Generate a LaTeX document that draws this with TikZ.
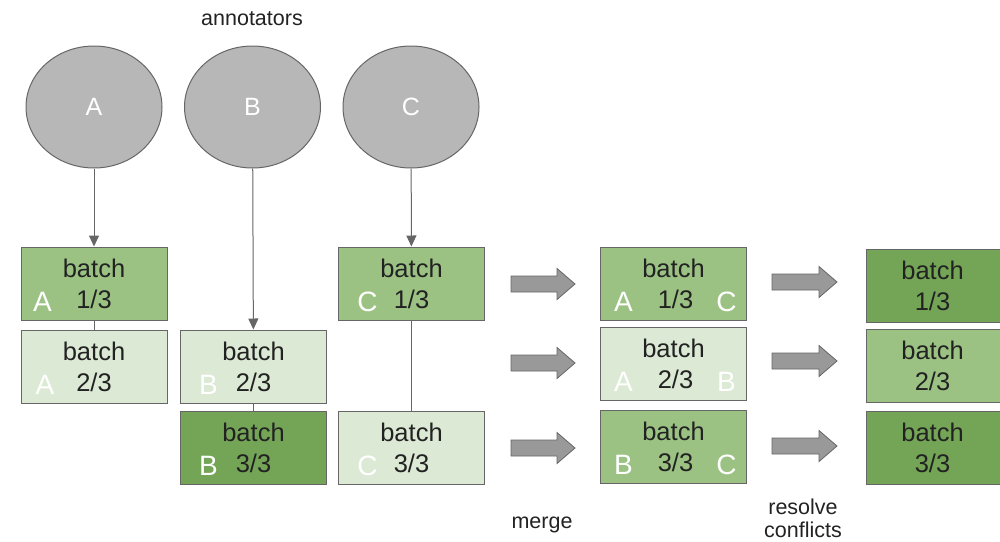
\documentclass[tikz,border=0pt]{standalone}
\usepackage{fontspec}
\setmainfont{Liberation Sans}
\usetikzlibrary{shapes.geometric,arrows.meta,calc}
\definecolor{gmid}{HTML}{9BC283}
\definecolor{glight}{HTML}{DCE9D4}
\definecolor{gdark}{HTML}{74A556}
\definecolor{bordergray}{HTML}{666666}
\definecolor{circgray}{HTML}{B7B7B7}
\definecolor{arrgray}{HTML}{999999}
\definecolor{txt}{HTML}{222222}
\tikzset{
  x=1pt,y=-1pt,
  annot/.style={ellipse,draw=bordergray,line width=1pt,fill=circgray,minimum width=136pt,minimum height=122pt,inner sep=0pt,text=white,font=\fontsize{25}{25}\selectfont},
  batchbox/.style={draw=bordergray,line width=1pt,minimum width=146pt,minimum height=73pt,inner sep=0pt},
  btxt/.style={text=txt,font=\fontsize{25.5}{25.5}\selectfont,inner sep=0pt,anchor=base},
  wtxt/.style={text=white,font=\fontsize{28}{28}\selectfont,inner sep=0pt,anchor=base},
  lbl/.style={text=txt,font=\fontsize{21.5}{21.5}\selectfont,inner sep=0pt,anchor=base},
  conn/.style={draw=bordergray,line width=1pt},
  arr/.style={conn,-{Triangle[length=11pt,width=10pt]}},
  blockarrow/.style={draw=bordergray,fill=arrgray,line width=0.8pt,line join=miter},
}
\newcommand{\blockarr}[4]{% x0, xh, x1, yc
  \path[blockarrow] (#1,#4-8) -- (#2,#4-8) -- (#2,#4-15.5) -- (#3,#4) -- (#2,#4+15.5) -- (#2,#4+8) -- (#1,#4+8) -- cycle;
}
\begin{document}
\begin{tikzpicture}
\useasboundingbox (0,0) rectangle (1000,541);
\node[lbl] (annlbl) at (252,25) {annotators};
\node[annot] (eA) at (94,107) {A};
\node[annot] (eB) at (252.5,107) {B};
\node[annot] (eC) at (411,107) {C};
% column A
\node[batchbox,fill=gmid] (a1) at (94,283.5) {};
\node[batchbox,fill=glight] (a2) at (94,366.5) {};
% column B
\node[batchbox,fill=glight] (b2) at (253.5,366.5) {};
\node[batchbox,fill=gdark] (b3) at (253.5,448) {};
% column C
\node[batchbox,fill=gmid] (c1) at (411.5,283.5) {};
\node[batchbox,fill=glight] (c3) at (411.5,448) {};
% merged
\node[batchbox,fill=gmid] (m1) at (673.5,283.5) {};
\node[batchbox,fill=glight] (m2) at (673.5,364) {};
\node[batchbox,fill=gmid] (m3) at (673.5,446.5) {};
% resolved
\node[batchbox,fill=gdark] (r1) at (939.5,285.5) {};
\node[batchbox,fill=gmid] (r2) at (939.5,365.5) {};
\node[batchbox,fill=gdark] (r3) at (939.5,448) {};
% connectors
\draw[arr] (eA) -- (a1);
\draw[arr] (eB) -- (b2);
\draw[arr] (eC) -- (c1);
\draw[conn] (a1) -- (a2);
\draw[conn] (b2) -- (b3);
\draw[conn] (c1) -- (c3);
% texts
\node[btxt] (a1t) at ($(a1)+(0,-6.5)$) {batch};
\node[btxt] (a1n) at ($(a1)+(0,24.5)$) {1/3};
\node[wtxt] (a1w) at ($(a1)+(-51.5,27.5)$) {A};
\node[btxt] (a2t) at ($(a2)+(0,-6.5)$) {batch};
\node[btxt] (a2n) at ($(a2)+(0,24.5)$) {2/3};
\node[wtxt] (a2w) at ($(a2)+(-49,27.5)$) {A};
\node[btxt] (b2t) at ($(b2)+(0,-6.5)$) {batch};
\node[btxt] (b2n) at ($(b2)+(0,24.5)$) {2/3};
\node[wtxt] (b2w) at ($(b2)+(-45,27.5)$) {B};
\node[btxt] (b3t) at ($(b3)+(0,-6.5)$) {batch};
\node[btxt] (b3n) at ($(b3)+(0,24.5)$) {3/3};
\node[wtxt] (b3w) at ($(b3)+(-45,27.5)$) {B};
\node[btxt] (c1t) at ($(c1)+(0,-6.5)$) {batch};
\node[btxt] (c1n) at ($(c1)+(0,24.5)$) {1/3};
\node[wtxt] (c1w) at ($(c1)+(-44,27.5)$) {C};
\node[btxt] (c3t) at ($(c3)+(0,-6.5)$) {batch};
\node[btxt] (c3n) at ($(c3)+(0,24.5)$) {3/3};
\node[wtxt] (c3w) at ($(c3)+(-44,27.5)$) {C};
\node[btxt] (m1t) at ($(m1)+(0,-6.5)$) {batch};
\node[btxt] (m1n) at ($(m1)+(2,24.5)$) {1/3};
\node[wtxt] (m1w) at ($(m1)+(-50,27.5)$) {A};
\node[wtxt] (m1v) at ($(m1)+(53,27.5)$) {C};
\node[btxt] (m2t) at ($(m2)+(0,-6.5)$) {batch};
\node[btxt] (m2n) at ($(m2)+(2,24.5)$) {2/3};
\node[wtxt] (m2w) at ($(m2)+(-50,27.5)$) {A};
\node[wtxt] (m2v) at ($(m2)+(53,27.5)$) {B};
\node[btxt] (m3t) at ($(m3)+(0,-6.5)$) {batch};
\node[btxt] (m3n) at ($(m3)+(2,24.5)$) {3/3};
\node[wtxt] (m3w) at ($(m3)+(-50,27.5)$) {B};
\node[wtxt] (m3v) at ($(m3)+(53,27.5)$) {C};
\node[btxt] (r1t) at ($(r1)+(-7,-6.5)$) {batch};
\node[btxt] (r1n) at ($(r1)+(-7,24.5)$) {1/3};
\node[btxt] (r2t) at ($(r2)+(-7,-6.5)$) {batch};
\node[btxt] (r2n) at ($(r2)+(-7,24.5)$) {2/3};
\node[btxt] (r3t) at ($(r3)+(-7,-6.5)$) {batch};
\node[btxt] (r3n) at ($(r3)+(-7,24.5)$) {3/3};
% block arrows
\blockarr{511}{557}{575}{284}
\blockarr{511}{557}{575}{363}
\blockarr{511}{557}{575}{448}
\blockarr{772}{819}{837}{282}
\blockarr{772}{819}{837}{361}
\blockarr{772}{819}{837}{446}
% labels
\node[lbl] (merge) at (542,528) {merge};
\node[lbl] (resolve) at (803,514) {resolve};
\node[lbl] (conflicts) at (803,537) {conflicts};
\end{tikzpicture}
\end{document}
